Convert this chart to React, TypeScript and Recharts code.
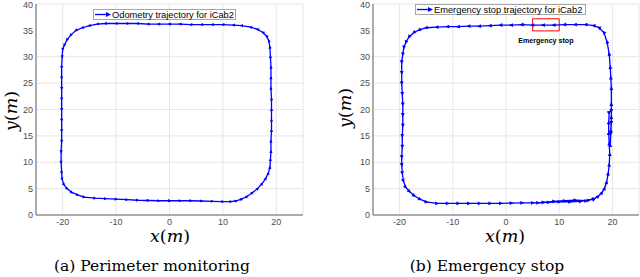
import { LineChart, Line, XAxis, YAxis, CartesianGrid, ReferenceArea } from "recharts";

const X_TICKS = [-20, -10, 0, 10, 20];
const Y_TICKS = [0, 5, 10, 15, 20, 25, 30, 35, 40];

// (a) odometry loop, counter-clockwise, starting bottom middle
const odoX = [0, 2, 4, 6, 8, 10, 11.5, 12.5, 13.5, 14.5, 15.5, 16.5, 17.3, 18.0, 18.5, 18.8, 18.9, 19.0, 19.0, 19.1, 19.1, 19.1, 19.1, 19.0, 19.0, 19.0, 18.9, 18.8, 18.6, 18.2, 17.5, 16.5, 15.2, 13.5, 12, 10, 8, 6, 4, 2, 0, -2, -4, -6, -8, -10, -12, -13.5, -15, -16.3, -17.5, -18.5, -19.2, -19.7, -20.0, -20.1, -20.2, -20.2, -20.2, -20.2, -20.2, -20.2, -20.2, -20.2, -20.3, -20.3, -20.2, -20.1, -19.8, -19.2, -18.3, -17.2, -16, -14, -12, -10, -8, -6, -4, -2, 0];
const odoY = [2.7, 2.7, 2.7, 2.65, 2.6, 2.55, 2.55, 2.7, 3.0, 3.5, 4.2, 5.0, 5.9, 6.9, 7.9, 9.0, 10.5, 12, 14, 16, 18, 20, 22, 24, 26, 28, 30, 31.8, 33.0, 33.9, 34.6, 35.2, 35.6, 35.9, 36.0, 36.1, 36.1, 36.1, 36.1, 36.2, 36.2, 36.2, 36.2, 36.3, 36.3, 36.3, 36.3, 36.2, 35.9, 35.5, 35.0, 34.1, 33.2, 32.2, 31.4, 30, 28, 26, 24, 22, 20, 18, 16, 14, 12, 10, 8, 6.8, 5.8, 5.0, 4.3, 3.8, 3.4, 3.2, 3.1, 3.0, 2.9, 2.8, 2.75, 2.7, 2.7];

// (b) emergency stop loop, counter-clockwise, starting bottom right
const stopX = [6, 8, 10, 12, 14, 15.5, 16.5, 17.3, 18.0, 18.5, 18.9, 19.2, 19.4, 19.5, 19.4, 19.3, 19.3, 19.4, 19.8, 19.8, 19.7, 19.6, 19.7, 19.8, 19.8, 19.8, 19.7, 19.6, 19.4, 19.0, 18.4, 17.5, 16.5, 15, 13, 11, 9, 7, 5, 3, 1, -1, -3, -5, -7, -9, -11, -13, -15, -16.3, -17.3, -18.2, -18.8, -19.2, -19.4, -19.6, -19.6, -19.6, -19.5, -19.4, -19.4, -19.4, -19.5, -19.5, -19.6, -19.6, -19.5, -19.3, -18.9, -18.2, -17.3, -16.2, -15, -13, -11, -9, -7, -5, -3, -1, 1, 3, 5, 7, 9, 11, 13, 15, 16.5];
const stopY = [2.3, 2.4, 2.5, 2.5, 2.6, 2.8, 3.0, 3.5, 4.2, 5.0, 6.2, 7.8, 9.5, 11.5, 13.5, 15.5, 17.5, 19.5, 19.8, 17.5, 15.5, 13.2, 16, 18.5, 21, 24, 26, 28, 30.5, 32.8, 34.6, 35.5, 35.9, 36.1, 36.1, 36.1, 36.0, 36.0, 36.0, 36.1, 36.0, 36.0, 35.9, 35.8, 35.8, 35.7, 35.7, 35.6, 35.5, 35.1, 34.6, 33.8, 32.8, 31.8, 30.5, 29, 27, 25, 23, 21, 19, 17, 15, 13, 11, 9.5, 8, 6.5, 5.3, 4.5, 3.7, 3.0, 2.5, 2.2, 2.2, 2.2, 2.2, 2.2, 2.2, 2.2, 2.25, 2.3, 2.3, 2.4, 2.6, 2.7, 2.8, 2.7, 3.1];

const BLUE = "#0000ff";
const tickStyle = { fontSize: 9, fill: "#4d4d4d", fontFamily: "Liberation Sans, Arial, sans-serif" };

const toRows = (xs: number[], ys: number[]) => xs.map((x, i) => ({ x, y: ys[i] }));

// small arrow heads pointing along the direction of travel
function arrowDot(xs: number[], ys: number[], size: number) {
  return (props: any) => {
    const { cx, cy, index } = props;
    const a = index < xs.length - 1 ? index : index - 1;
    const ang = (Math.atan2(-(ys[a + 1] - ys[a]), xs[a + 1] - xs[a]) * 180) / Math.PI;
    return (
      <polygon
        key={`arrow-${index}`}
        points={`${size},0 ${-size * 0.7},${-size * 0.8} ${-size * 0.7},${size * 0.8}`}
        transform={`translate(${cx},${cy}) rotate(${ang})`}
        fill={BLUE}
      />
    );
  };
}

function LegendBox({ text, left, top, width }: { text: string; left: number; top: number; width: number }) {
  return (
    <div
      style={{
        position: "absolute", left, top, width, height: 11, boxSizing: "border-box",
        border: "1px solid #a6a6a6", background: "#fff", display: "flex", alignItems: "center",
        fontFamily: "Liberation Sans, Arial, sans-serif", fontSize: 9.3, color: "#000", whiteSpace: "nowrap",
      }}
    >
      <svg width={17} height={9} style={{ marginLeft: 1 }}>
        <line x1={0} y1={4.5} x2={13} y2={4.5} stroke={BLUE} strokeWidth={1.3} />
        <polygon points="16,4.5 11,2 11,7" fill={BLUE} />
      </svg>
      <span>{text}</span>
    </div>
  );
}

function AxisLabel({ letter, x, y, rotate }: { letter: string; x: number; y: number; rotate?: boolean }) {
  return (
    <div
      style={{
        position: "absolute", left: x, top: y, transform: `translate(-50%,-50%)${rotate ? " rotate(-90deg)" : ""}`,
        fontFamily: "DejaVu Serif, serif", fontSize: 17.5, color: "#000", whiteSpace: "nowrap", lineHeight: 1,
      }}
    >
      <i>{letter}</i>(<i>m</i>)
    </div>
  );
}

function Caption({ text, x }: { text: string; x: number }) {
  return (
    <div
      style={{
        position: "absolute", left: x, top: 267, transform: "translate(-50%,-50%)",
        fontFamily: "DejaVu Serif, serif", fontSize: 15.5, color: "#000", whiteSpace: "nowrap", lineHeight: 1,
      }}
    >
      {text}
    </div>
  );
}

function Panel({ xs, ys, yWidth, right, arrow, children }: any) {
  return (
    <LineChart width={320} height={235} data={toRows(xs, ys)} margin={{ top: 4, right, bottom: 0, left: 0 }}>
      <CartesianGrid stroke="#e6e6e6" />
      <XAxis
        type="number" dataKey="x" domain={[-25, 25]} ticks={X_TICKS} height={20}
        tick={tickStyle} tickLine={false} tickSize={0} tickMargin={4} axisLine={{ stroke: "#666" }}
      />
      <YAxis
        type="number" domain={[0, 40]} ticks={Y_TICKS} width={yWidth}
        tick={tickStyle} tickLine={false} tickSize={0} tickMargin={3} axisLine={{ stroke: "#666" }}
      />
      {children}
      <Line
        type="linear" dataKey="y" stroke={BLUE} strokeWidth={1.3}
        dot={arrowDot(xs, ys, arrow)} activeDot={false} isAnimationActive={false}
      />
    </LineChart>
  );
}

export default function App() {
  return (
    <div style={{ position: "absolute", left: 0, top: 0, width: 640, height: 277, background: "#fff" }}>
      <div style={{ position: "absolute", left: 0, top: 0 }}>
        <Panel xs={odoX} ys={odoY} yWidth={36} right={17} arrow={2} />
      </div>
      <div style={{ position: "absolute", left: 320, top: 0 }}>
        <Panel xs={stopX} ys={stopY} yWidth={53} right={1} arrow={2.4}>
          <ReferenceArea
            x1={5} x2={10} y1={34.9} y2={37.2} stroke="#ff0000" strokeWidth={1}
            fill="none" fillOpacity={0} ifOverflow="visible"
            label={{
              value: "Emergency stop", position: "bottom", offset: 7, fontSize: 7.1,
              fontWeight: 700, fill: "#000", fontFamily: "Liberation Sans, Arial, sans-serif",
            }}
          />
        </Panel>
      </div>
      <LegendBox text="Odometry trajectory for iCab2" left={93} top={9} width={143} />
      <LegendBox text="Emergency stop trajectory for iCab2" left={415} top={4} width={171} />
      <AxisLabel letter="y" x={12} y={111} rotate />
      <AxisLabel letter="y" x={346} y={108} rotate />
      <AxisLabel letter="x" x={170} y={237} />
      <AxisLabel letter="x" x={505} y={237} />
      <Caption text="(a) Perimeter monitoring" x={152} />
      <Caption text="(b) Emergency stop" x={487} />
    </div>
  );
}
